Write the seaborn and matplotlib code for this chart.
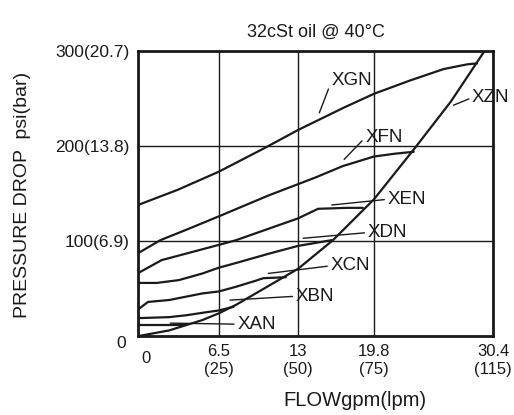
import seaborn as sns
import matplotlib
matplotlib.use("Agg")
import matplotlib.pyplot as plt
import matplotlib.transforms as mtransforms

# --- data (x = flow gpm, y = pressure drop psi) ---
xan_x = [0.1, 2.5, 3.9]
xan_y = [12, 12, 12]

xbn_x = [0.1, 2.5, 3.9, 5.4, 6.5, 7.7]
xbn_y = [19, 20, 22, 25, 27, 31]

xcn_x = [0.1, 0.8, 2.5, 5.2, 6.5, 7.9, 9.4, 10.1, 11.9]
xcn_y = [29, 36, 38, 45, 47, 52, 58, 61, 62]

xdn_x = [0.1, 1.5, 3.3, 5.2, 6.5, 7.9, 10.6, 12.9, 15.6]
xdn_y = [56, 56, 59, 66, 72, 77, 87, 95, 101]

xen_x = [0.1, 1.9, 6.5, 7.9, 12.9, 14.5, 16.8, 18.1]
xen_y = [67, 80, 96, 101, 124, 134, 135, 135]

xfn_x = [0.1, 1.8, 3.9, 6.5, 10.5, 14.3, 16.5, 19.0, 20.7, 22.2]
xfn_y = [88, 101, 112, 126, 148, 167, 179, 189, 192, 194]

xgn_x = [0.0, 3.2, 6.5, 10.2, 12.9, 16.5, 19.0, 21.9, 24.6, 26.5, 27.3]
xgn_y = [138, 154, 173, 198, 217, 240, 255, 269, 281, 286, 287]

xzn_x = [0.0, 2.5, 5.2, 6.5, 7.9, 12.9, 15.7, 19.0, 22.3, 25.2, 27.9]
xzn_y = [0, 6, 17, 24, 33, 71, 101, 144, 198, 247, 300]

curves = [(xan_x, xan_y), (xbn_x, xbn_y), (xcn_x, xcn_y), (xdn_x, xdn_y),
          (xen_x, xen_y), (xfn_x, xfn_y), (xgn_x, xgn_y), (xzn_x, xzn_y)]

# curve labels: name, point on curve, text anchor (left-centre)
names = ["XAN", "XBN", "XCN", "XDN", "XEN", "XFN", "XGN", "XZN"]
label_from = [(2.6, 13.7), (7.4, 37.9), (10.5, 66), (13.3, 103),
              (15.6, 138), (16.6, 186), (14.6, 235), (25.4, 243)]
label_at = [(8.0, 12.6), (12.7, 42), (15.5, 74), (18.5, 109),
            (20.1, 144), (18.3, 209), (15.6, 269), (26.9, 251)]

x_ticks = [0, 6.5, 12.9, 19.0, 28.6]
x_ticklabels = ["0", "6.5\n(25)", "13\n(50)", "19.8\n(75)", "30.4\n(115)"]
y_ticks = [0, 100, 200, 300]
y_ticklabels = ["0", "100(6.9)", "200(13.8)", "300(20.7)"]

# --- style ---
sns.set_style("white")
plt.rcParams["font.family"] = ["Liberation Sans", "DejaVu Sans"]
ink = "#1a1a1a"

fig = plt.figure(figsize=(5.14, 4.15), dpi=100)
ax = fig.add_axes([0.2685, 0.190, 0.691, 0.687])

for cx, cy in curves:
    sns.lineplot(x=cx, y=cy, ax=ax, color=ink, linewidth=1.6, sort=False)

for name, p, t in zip(names, label_from, label_at):
    ax.annotate(name, xy=p, xytext=t, fontsize=13.5, color=ink,
                ha="left", va="center",
                arrowprops=dict(arrowstyle="-", color=ink, lw=1.0,
                                shrinkA=0, shrinkB=0, relpos=(0, 0.5)))

ax.set_xlim(0, 28.6)
ax.set_ylim(0, 300)
ax.set_xticks(x_ticks)
ax.set_xticklabels(x_ticklabels, fontsize=12, color=ink)
ax.set_yticks(y_ticks)
ax.set_yticklabels(y_ticklabels, fontsize=12.5, color=ink)
ax.tick_params(length=0, pad=6)
ax.grid(True, color=ink, linewidth=1.0)
for s in ax.spines.values():
    s.set_color(ink)
    s.set_linewidth(2.0)

# the two "0" labels sit a little off the corner in the reference
x0 = ax.get_xticklabels()[0]
x0.set_transform(x0.get_transform() + mtransforms.ScaledTranslation(0.08, -0.07, fig.dpi_scale_trans))
y0 = ax.get_yticklabels()[0]
y0.set_transform(y0.get_transform() + mtransforms.ScaledTranslation(-0.04, -0.06, fig.dpi_scale_trans))

ax.set_title("32cSt oil @ 40°C", fontsize=13, color=ink, pad=10)
fig.text(0.043, 0.53, "PRESSURE DROP  psi(bar)", rotation=90, fontsize=14,
         color=ink, ha="center", va="center")
fig.text(0.69, 0.035, "FLOWgpm(lpm)", fontsize=14.5, color=ink,
         ha="center", va="center")

fig.savefig("out.png", dpi=100)
